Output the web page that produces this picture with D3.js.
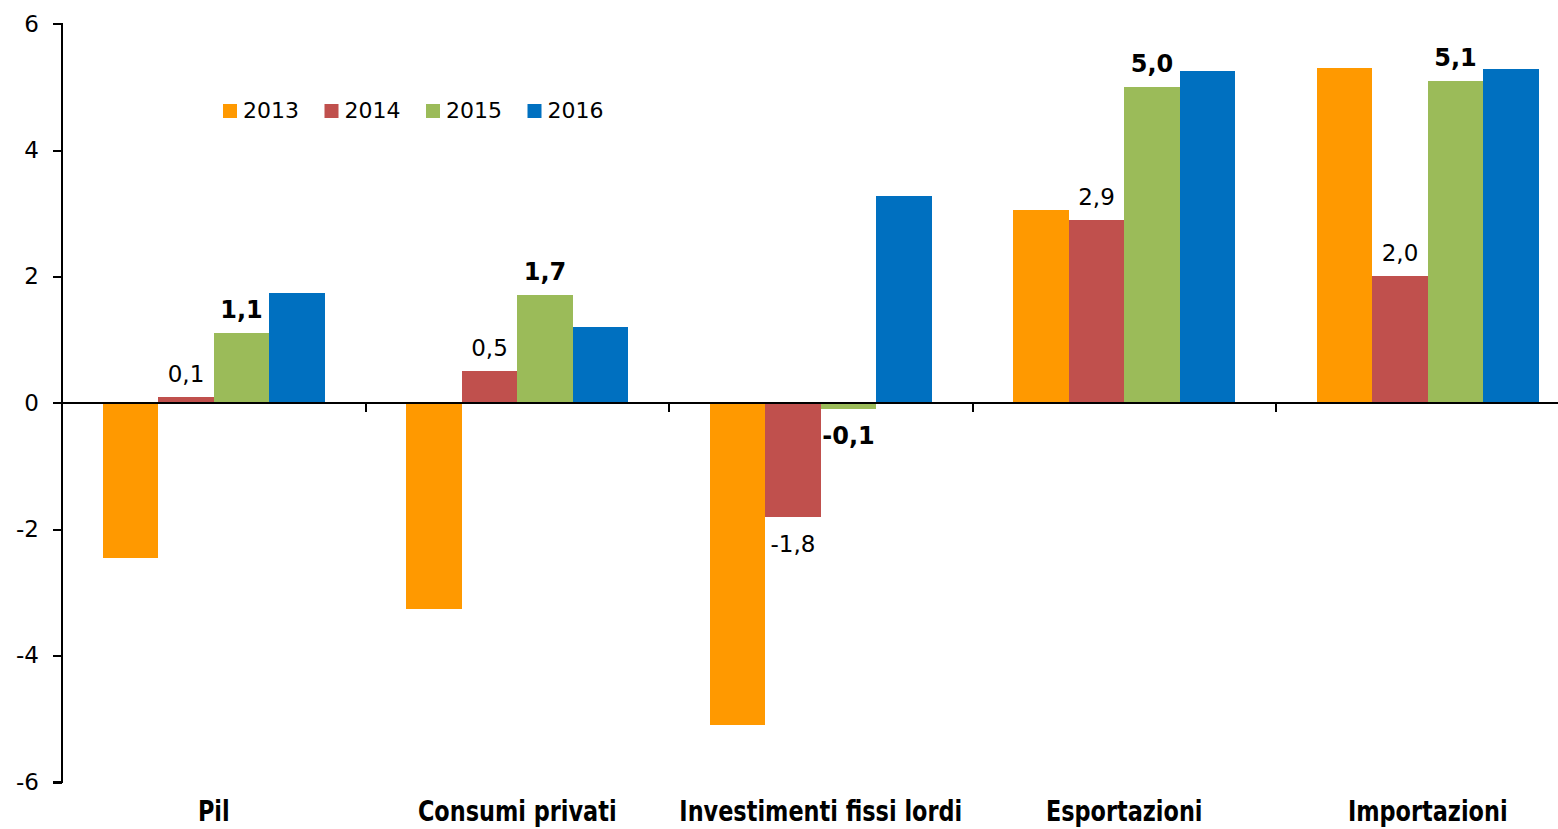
<!DOCTYPE html>
<html>
<head>
<meta charset="utf-8">
<script src="https://cdn.jsdelivr.net/npm/d3@7"></script>
<style>
  html, body { margin: 0; padding: 0; background: #fff; }
  svg { display: block; }
</style>
</head>
<body>
<svg id="chart" width="1558" height="829"></svg>
<script>
// Variazioni percentuali per componente e anno
const categories = ["Pil", "Consumi privati", "Investimenti fissi lordi", "Esportazioni", "Importazioni"];
const years = ["2013", "2014", "2015", "2016"];
const values2013 = [-2.45, -3.26, -5.10, 3.05, 5.30];
const values2014 = [0.1, 0.5, -1.8, 2.9, 2.0];
const values2015 = [1.1, 1.7, -0.1, 5.0, 5.1];
const values2016 = [1.74, 1.20, 3.28, 5.25, 5.28];
const yTicks = [-6, -4, -2, 0, 2, 4, 6];
const labelledYears = ["2014", "2015"]; // serie con etichetta del valore
const colors = { "2013": "#FF9900", "2014": "#C0504D", "2015": "#9BBB59", "2016": "#0070C0" };

const seriesByYear = { "2013": values2013, "2014": values2014, "2015": values2015, "2016": values2016 };
const rows = [];
categories.forEach((c, i) => years.forEach(y => rows.push({ cat: c, year: y, value: seriesByYear[y][i] })));

const svg = d3.select("#chart");
const W = 1558;
const axisX = 62;
const bandStep = 303.5;

const x = d3.scaleBand().domain(categories).range([axisX, axisX + bandStep * categories.length]).padding(0);
const groupWidth = 222;
const xInner = d3.scaleBand().domain(years).range([0, groupWidth]).padding(0);
const y = d3.scaleLinear().domain([-6, 6]).range([782, 23.7]);

const fmt = v => d3.format(".1f")(v).replace(".", ",").replace("−", "-");

// barre
svg.append("g").selectAll("rect").data(rows).join("rect")
  .attr("x", d => x(d.cat) + (x.bandwidth() - groupWidth) / 2 + xInner(d.year))
  .attr("width", xInner.bandwidth())
  .attr("y", d => y(Math.max(0, d.value)))
  .attr("height", d => Math.abs(y(d.value) - y(0)))
  .attr("fill", d => colors[d.year])
  .attr("shape-rendering", "crispEdges");

// asse verticale
const yAxis = svg.append("g").attr("transform", `translate(${axisX},0)`)
  .call(d3.axisLeft(y).tickValues(yTicks).tickSize(9).tickPadding(14).tickFormat(d => d3.format("d")(d).replace("−", "-")));
yAxis.select(".domain").attr("stroke", "#000").attr("stroke-width", 2).attr("d", `M-9,${y(6)}H0V${y(-6)}H-9`);
yAxis.selectAll(".tick line").attr("stroke", "#000").attr("stroke-width", 2);
yAxis.selectAll(".tick text").attr("font-family", "DejaVu Sans, sans-serif").attr("font-size", 23).attr("fill", "#000");
yAxis.selectAll("path, line").attr("shape-rendering", "crispEdges");

// linea dello zero con tacche tra le categorie
const zeroY = y(0);
const zero = svg.append("g");
zero.append("line").attr("x1", axisX).attr("x2", W).attr("y1", zeroY).attr("y2", zeroY)
  .attr("stroke", "#000").attr("stroke-width", 2).attr("shape-rendering", "crispEdges");
zero.selectAll("line.tick").data(categories.slice(1)).join("line").attr("class", "tick")
  .attr("x1", d => x(d)).attr("x2", d => x(d))
  .attr("y1", zeroY).attr("y2", zeroY + 9)
  .attr("stroke", "#000").attr("stroke-width", 2).attr("shape-rendering", "crispEdges");

// etichette dei valori
svg.append("g").selectAll("text").data(rows.filter(d => labelledYears.includes(d.year))).join("text")
  .attr("x", d => x(d.cat) + (x.bandwidth() - groupWidth) / 2 + xInner(d.year) + xInner.bandwidth() / 2)
  .attr("y", d => d.value >= 0 ? y(d.value) - 15 : y(d.value) + 35)
  .attr("text-anchor", "middle")
  .attr("font-family", "DejaVu Sans, sans-serif")
  .attr("font-size", d => d.year === "2015" ? 24 : 23)
  .attr("font-weight", d => d.year === "2015" ? "bold" : "normal")
  .attr("fill", "#000")
  .text(d => fmt(d.value));

// etichette delle categorie
const catScale = 0.8;
svg.append("g").selectAll("text").data(categories).join("text")
  .attr("transform", d => `translate(${x(d) + x.bandwidth() / 2},821) scale(${catScale},1)`)
  .attr("text-anchor", "middle")
  .attr("font-family", "DejaVu Sans, sans-serif")
  .attr("font-weight", "bold")
  .attr("font-size", 28)
  .attr("fill", "#000")
  .text(d => d);

// legenda
const legend = svg.append("g").attr("transform", "translate(223,104)");
const item = legend.selectAll("g").data(years).join("g")
  .attr("transform", (d, i) => `translate(${i * 101.5},0)`);
item.append("rect").attr("width", 14).attr("height", 14).attr("fill", d => colors[d]);
item.append("text").attr("x", 20).attr("y", 14)
  .attr("font-family", "DejaVu Sans, sans-serif").attr("font-size", 22).attr("fill", "#000")
  .text(d => d);
</script>
</body>
</html>
